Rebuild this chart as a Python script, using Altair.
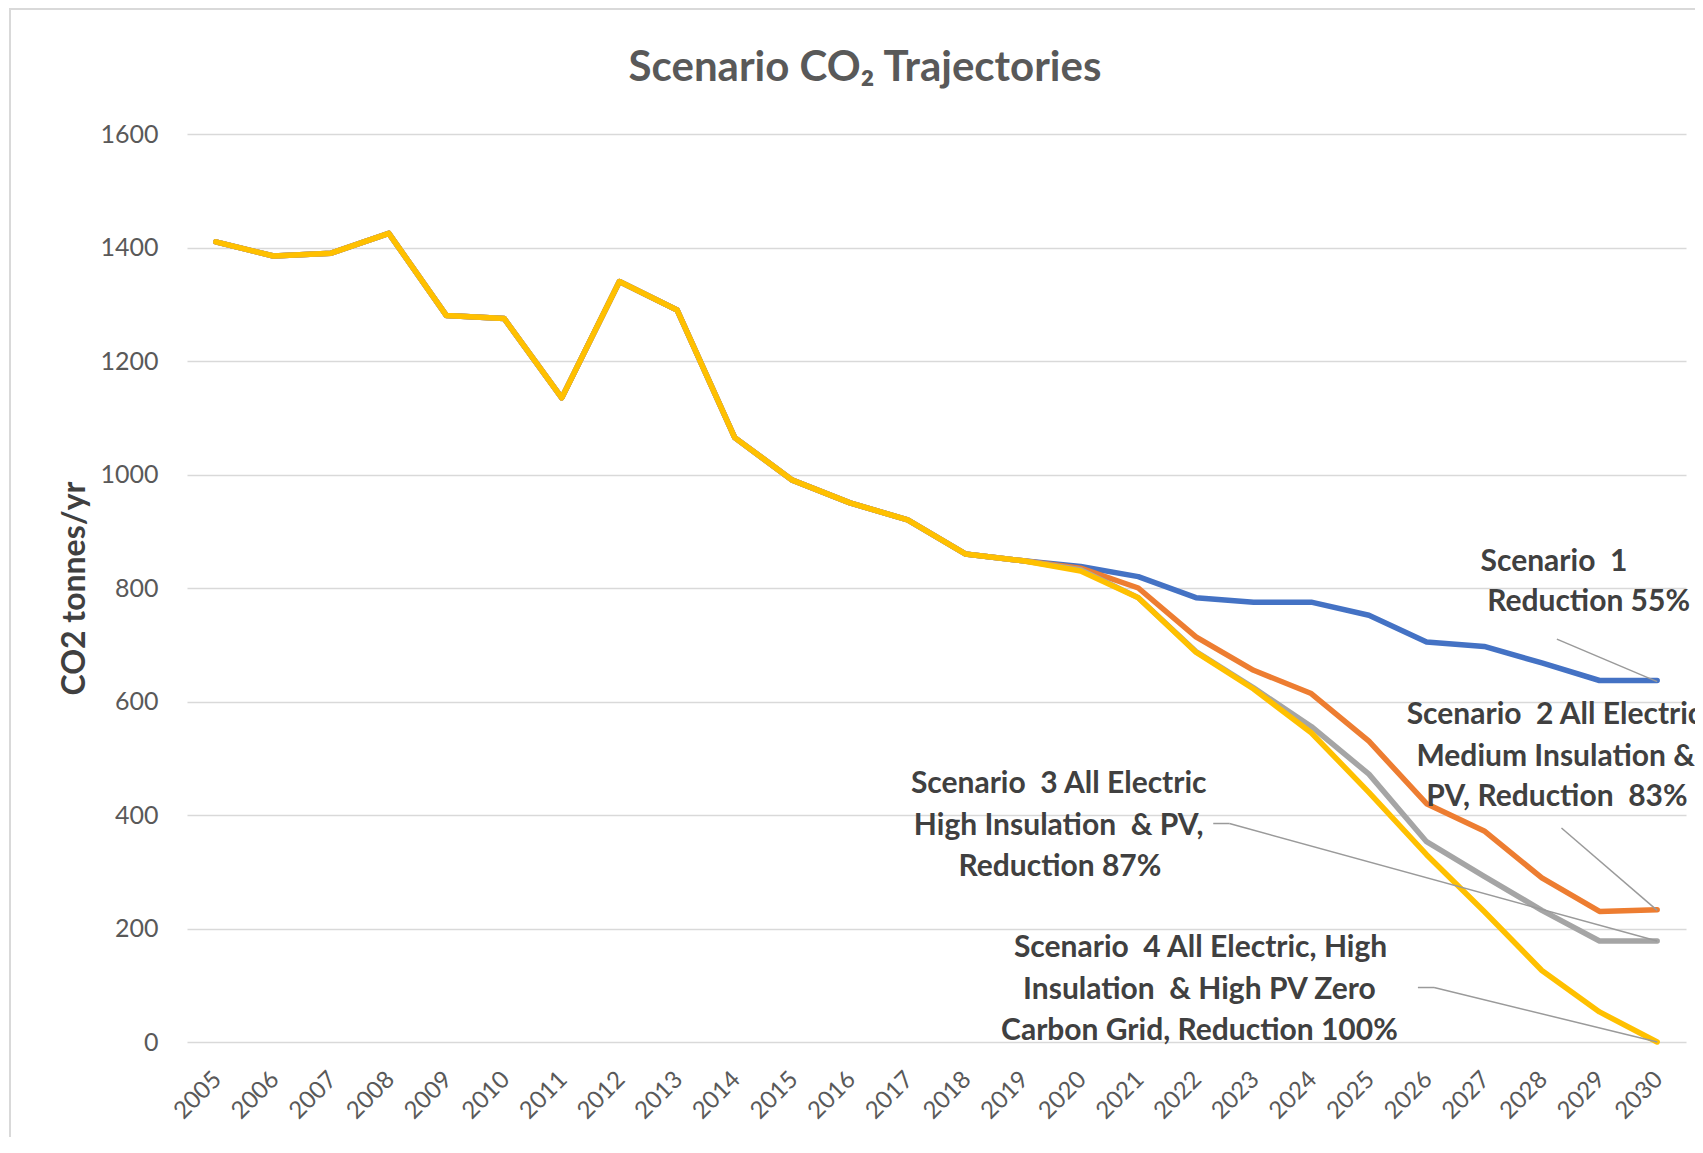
import altair as alt
import pandas as pd

# ---------------- data ----------------
years = [2005, 2006, 2007, 2008, 2009, 2010, 2011, 2012, 2013, 2014, 2015, 2016, 2017,
         2018, 2019, 2020, 2021, 2022, 2023, 2024, 2025, 2026, 2027, 2028, 2029, 2030]

# common history 2005-2019
history = [1410, 1385, 1390, 1425, 1280, 1275, 1135, 1340, 1290, 1065, 990, 950, 920, 860, 848]

# 2020-2030 per scenario
scenario1 = [838, 820, 783, 775, 775, 752, 705, 697, 668, 637, 637]
scenario2 = [835, 800, 714, 655, 614, 530, 420, 372, 289, 230, 233]
scenario3 = [832, 783, 688, 624, 556, 472, 353, 292, 232, 178, 178]
scenario4 = [830, 783, 687, 622, 545, 440, 330, 230, 126, 53, 0]

series_names = ["Scenario 1", "Scenario 2", "Scenario 3", "Scenario 4"]
series_colors = ["#4472C4", "#ED7D31", "#A5A5A5", "#FFC000"]

y_ticks = [0, 200, 400, 600, 800, 1000, 1200, 1400, 1600]

title_text = "Scenario CO₂ Trajectories"

# annotation lines: text, x (year), y (value)
ann_text = [
    "Scenario \u00a01", "Reduction 55%",
    "Scenario \u00a02 All Electric,", "Medium Insulation &", "PV, Reduction \u00a083%",
    "Scenario \u00a03 All Electric", "High Insulation \u00a0& PV,", "Reduction 87%",
    "Scenario \u00a04 All Electric, High", "Insulation \u00a0& High PV Zero", "Carbon Grid, Reduction 100%",
]
ann_x = [2028.21, 2028.81,
         2028.28, 2028.24, 2028.26,
         2019.62, 2019.62, 2019.64,
         2022.08, 2022.06, 2022.06]
ann_y = [846, 775,
         576, 503, 431,
         454, 381, 308,
         165, 92, 19]

# leader lines (segments)
lead_x1 = [2028.26, 2028.34, 2022.30, 2022.58, 2025.85, 2026.13]
lead_y1 = [710, 377, 385, 385, 96, 96]
lead_x2 = [2030.0, 2030.0, 2022.58, 2030.0, 2026.13, 2030.0]
lead_y2 = [635, 232, 385, 178, 96, 0]

# ---------------- tables ----------------
rows = []
for name, fut in zip(series_names, [scenario1, scenario2, scenario3, scenario4]):
    vals = history + fut
    for yr, v in zip(years, vals):
        rows.append({"Year": yr, "CO2": v, "Scenario": name})
lines_df = pd.DataFrame(rows)
ann_df = pd.DataFrame({"text": ann_text, "x": ann_x, "y": ann_y})
lead_df = pd.DataFrame({"x": lead_x1, "y": lead_y1, "x2": lead_x2, "y2": lead_y2})
one_df = pd.DataFrame({"f": [0]})

FONT = "Lato"
xscale = alt.Scale(domain=[2004.5, 2030.5], nice=False, zero=False)
yscale = alt.Scale(domain=[0, 1600], nice=False)

lines = alt.Chart(lines_df).mark_line(strokeWidth=5.5, strokeJoin="round", strokeCap="round").encode(
    x=alt.X("Year:Q", scale=xscale,
            axis=alt.Axis(values=years, format="d", labelAngle=-45, grid=False, domain=False,
                          ticks=False, labelFontSize=24, labelFont=FONT, labelColor="#595959",
                          labelPadding=25, labelOffset=-7, labelOverlap=False, labelFlush=False,
                          title=None)),
    y=alt.Y("CO2:Q", scale=yscale,
            axis=alt.Axis(values=y_ticks, format="d", domain=False,
                          ticks=False, gridColor="#d9d9d9", gridWidth=1.5,
                          labelFontSize=25, labelFont=FONT, labelColor="#595959", labelPadding=29,
                          title="CO2 tonnes/yr", titleFont=FONT, titleFontSize=32,
                          titleFontWeight="bold", titleColor="#404040", titlePadding=8)),
    color=alt.Color("Scenario:N", scale=alt.Scale(domain=series_names, range=series_colors), legend=None),
)

leaders = alt.Chart(lead_df).mark_rule(color="#9a9a9a", strokeWidth=1.5).encode(
    x=alt.X("x:Q", scale=xscale), x2="x2:Q",
    y=alt.Y("y:Q", scale=yscale), y2="y2:Q",
)

texts = alt.Chart(ann_df).mark_text(font=FONT, fontSize=30, fontWeight="bold", color="#404040",
                                    align="center", baseline="middle").encode(
    x=alt.X("x:Q", scale=xscale), y=alt.Y("y:Q", scale=yscale), text="text:N",
)

frame = alt.Chart(one_df).mark_rect(fill="transparent", stroke="#d9d9d9", strokeWidth=2).encode(
    x=alt.value(-177), x2=alt.value(1600), y=alt.value(-125), y2=alt.value(1200)
)

title = alt.Chart(one_df).mark_text(font=FONT, fontSize=42, fontWeight="bold", color="#595959",
                                    align="center", baseline="alphabetic").encode(
    x=alt.value(678), y=alt.value(-53), text=alt.value(title_text)
)

chart = alt.layer(frame, lines, leaders, texts, title).properties(
    width=1499, height=908,
    autosize=alt.AutoSizeParams(type="none"),
    padding={"left": 179, "top": 126, "right": 9, "bottom": 95},
).configure_view(stroke=None)

chart.save("out.html", embed_options={"renderer": "svg", "actions": False})
